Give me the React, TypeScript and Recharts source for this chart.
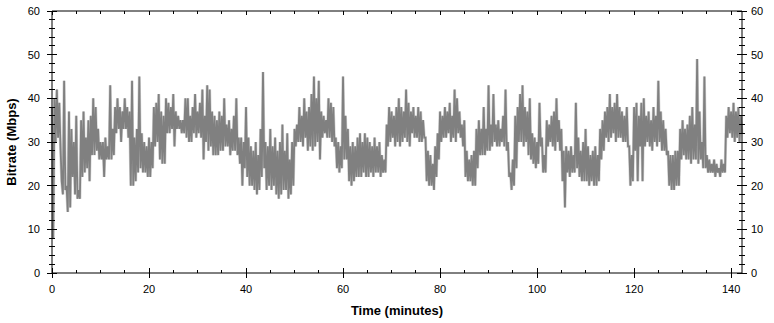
import React from "react";
import { LineChart, Line, XAxis, YAxis, Label } from "recharts";

// half-minute bins: upper and lower value of the trace (Mbps)
const highs = [
  38, 40, 42, 39, 21, 44, 20, 37, 33, 30,
  36, 19, 35, 37, 31, 35, 36, 40, 38, 33,
  30, 30, 31, 29, 43, 33, 38, 40, 38, 37,
  40, 38, 37, 44, 31, 33, 45, 32, 30, 29,
  31, 30, 38, 39, 41, 37, 36, 40, 39, 38,
  41, 37, 36, 35, 35, 40, 40, 36, 38, 41,
  37, 39, 42, 36, 43, 42, 37, 36, 35, 37,
  36, 40, 34, 35, 33, 36, 40, 31, 31, 30,
  38, 31, 29, 28, 30, 27, 33, 46, 30, 29,
  33, 29, 31, 28, 30, 34, 28, 32, 26, 30,
  33, 34, 38, 36, 40, 37, 38, 41, 45, 40,
  44, 37, 36, 35, 40, 39, 38, 31, 30, 29,
  45, 36, 33, 29, 30, 29, 31, 32, 30, 32,
  31, 30, 29, 31, 29, 30, 27, 26, 34, 38,
  37, 36, 38, 40, 38, 37, 42, 39, 37, 38,
  36, 38, 37, 35, 31, 28, 27, 25, 29, 32,
  37, 36, 38, 37, 39, 36, 42, 40, 37, 34,
  35, 28, 26, 27, 28, 33, 35, 33, 38, 33,
  43, 34, 41, 34, 35, 33, 36, 42, 30, 23,
  26, 36, 38, 41, 43, 38, 37, 40, 32, 31,
  30, 39, 31, 27, 35, 34, 36, 37, 40, 35,
  33, 28, 29, 28, 29, 27, 39, 31, 28, 30,
  33, 29, 27, 28, 29, 27, 33, 35, 37, 38,
  41, 38, 39, 41, 38, 37, 36, 38, 29, 27,
  38, 39, 36, 39, 40, 36, 37, 35, 38, 36,
  44, 37, 35, 33, 28, 27, 27, 28, 28, 33,
  35, 33, 34, 36, 38, 34, 49, 37, 30, 45,
  27, 26, 25, 26, 25, 24, 26, 25, 36, 38,
  37, 39, 37, 38, 36,
];

const lows = [
  8, 30, 31, 29, 18, 19, 14, 15, 22, 18,
  17, 17, 22, 23, 24, 21, 27, 27, 28, 26,
  26, 22, 26, 26, 26, 27, 32, 33, 30, 33,
  33, 31, 20, 20, 21, 23, 24, 23, 23, 22,
  22, 24, 29, 30, 26, 25, 25, 32, 32, 33,
  29, 33, 33, 32, 32, 31, 30, 30, 32, 31,
  32, 31, 26, 30, 28, 29, 27, 27, 27, 28,
  28, 29, 29, 27, 28, 28, 27, 25, 20, 24,
  22, 20, 20, 19, 18, 19, 22, 24, 19, 20,
  19, 20, 18, 17, 18, 19, 19, 17, 18, 20,
  29, 30, 30, 29, 31, 28, 29, 28, 29, 30,
  26, 31, 32, 31, 31, 30, 29, 24, 23, 24,
  26, 26, 21, 20, 21, 22, 22, 22, 23, 22,
  22, 23, 22, 23, 23, 22, 23, 23, 29, 30,
  31, 29, 30, 29, 30, 31, 30, 29, 32, 31,
  31, 30, 30, 31, 21, 20, 20, 19, 22, 26,
  30, 31, 31, 32, 30, 31, 30, 32, 31, 29,
  22, 21, 21, 20, 20, 24, 27, 27, 27, 28,
  28, 29, 30, 29, 29, 30, 29, 28, 22, 19,
  20, 24, 30, 30, 29, 30, 27, 26, 25, 24,
  25, 29, 23, 23, 29, 30, 29, 28, 30, 28,
  21, 15, 23, 22, 23, 23, 24, 22, 21, 21,
  21, 20, 21, 20, 20, 21, 26, 28, 31, 30,
  31, 32, 30, 31, 31, 30, 30, 29, 20, 21,
  28, 21, 29, 21, 29, 30, 29, 28, 30, 29,
  30, 28, 28, 27, 20, 19, 19, 20, 20, 26,
  27, 26, 26, 25, 26, 26, 25, 26, 24, 24,
  23, 23, 23, 22, 23, 22, 23, 23, 31, 32,
  31, 30, 31, 30, 32,
];

const yTicks = Array.from({ length: 31 }, (_, i) => i * 2);
const xTicks = Array.from({ length: 29 }, (_, i) => i * 5);
const X_MAX = 142.15;

const rows = highs.flatMap((h, i) => [
  { t: i * 0.5, v: h },
  { t: i * 0.5 + 0.25, v: lows[i] },
]);

const FONT = "'Liberation Sans', Arial, sans-serif";

const LeftTick = ({ x, y, payload }: any) => {
  const major = payload.value % 10 === 0;
  const len = major ? 5 : 3;
  return (
    <g>
      <line x1={x - len} x2={x + len} y1={y} y2={y} stroke="#000" shapeRendering="crispEdges" />
      {major && (
        <text x={x - 12} y={y} dy="0.36em" textAnchor="end" fontSize={11} fontFamily={FONT} fill="#000">
          {payload.value}
        </text>
      )}
    </g>
  );
};

const RightTick = ({ x, y, payload }: any) => {
  const major = payload.value % 10 === 0;
  const len = major ? 5 : 3;
  return (
    <g>
      <line x1={x - len} x2={x + len} y1={y} y2={y} stroke="#000" shapeRendering="crispEdges" />
      {major && (
        <text x={x + 9} y={y} dy="0.36em" textAnchor="start" fontSize={11} fontFamily={FONT} fill="#000">
          {payload.value}
        </text>
      )}
    </g>
  );
};

const BottomTick = ({ x, y, payload }: any) => {
  const major = payload.value % 20 === 0;
  return (
    <g>
      <line
        x1={x}
        x2={x}
        y1={y - (major ? 5 : 3)}
        y2={y + (major ? 5 : 0)}
        stroke="#000"
        shapeRendering="crispEdges"
      />
      {major && (
        <text x={x} y={y + 20} textAnchor="middle" fontSize={11} fontFamily={FONT} fill="#000">
          {payload.value}
        </text>
      )}
    </g>
  );
};

const TopTick = ({ x, y, payload }: any) => {
  const major = payload.value % 20 === 0;
  return (
    <line x1={x} x2={x} y1={y} y2={y + (major ? 4 : 3)} stroke="#000" shapeRendering="crispEdges" />
  );
};

const XTitle = ({ viewBox }: any) => (
  <text
    x={viewBox.x + viewBox.width / 2}
    y={viewBox.y + 42}
    textAnchor="middle"
    fontSize={13}
    fontWeight="bold"
    fontFamily={FONT}
    fill="#000"
  >
    Time (minutes)
  </text>
);

const YTitle = ({ viewBox }: any) => {
  const cx = viewBox.x + 11;
  const cy = viewBox.y + viewBox.height / 2;
  return (
    <text
      x={cx}
      y={cy}
      transform={`rotate(-90 ${cx} ${cy})`}
      textAnchor="middle"
      dominantBaseline="central"
      fontSize={13}
      fontWeight="bold"
      fontFamily={FONT}
      fill="#000"
    >
      Bitrate (Mbps)
    </text>
  );
};

export default function App() {
  return (
    <div style={{ position: "absolute", left: 0, top: 0, width: 774, height: 323, background: "#fff" }}>
      <LineChart width={774} height={323} data={rows} margin={{ top: 0, right: 0, bottom: 0, left: 0 }}>
        <XAxis
          xAxisId="bottom"
          dataKey="t"
          type="number"
          domain={[0, X_MAX]}
          ticks={xTicks}
          interval={0}
          height={50}
          tickSize={0}
          tickMargin={0}
          tickLine={false}
          axisLine={{ stroke: "#000" }}
          tick={<BottomTick />}
        >
          <Label content={<XTitle />} />
        </XAxis>
        <XAxis
          xAxisId="top"
          orientation="top"
          dataKey="t"
          type="number"
          domain={[0, X_MAX]}
          ticks={xTicks}
          interval={0}
          height={11}
          tickSize={0}
          tickMargin={0}
          tickLine={false}
          axisLine={{ stroke: "#000" }}
          tick={<TopTick />}
        />
        <YAxis
          yAxisId="left"
          type="number"
          domain={[0, 60]}
          ticks={yTicks}
          interval={0}
          width={52}
          tickSize={0}
          tickMargin={0}
          tickLine={false}
          axisLine={{ stroke: "#000" }}
          tick={<LeftTick />}
        >
          <Label content={<YTitle />} />
        </YAxis>
        <YAxis
          yAxisId="right"
          orientation="right"
          type="number"
          domain={[0, 60]}
          ticks={yTicks}
          interval={0}
          width={32}
          tickSize={0}
          tickMargin={0}
          tickLine={false}
          axisLine={{ stroke: "#000" }}
          tick={<RightTick />}
        />
        <Line
          xAxisId="top"
          yAxisId="right"
          dataKey="v"
          type="linear"
          stroke="#d2d2d2"
          strokeWidth={3}
          dot={false}
          activeDot={false}
          isAnimationActive={false}
        />
        <Line
          xAxisId="bottom"
          yAxisId="left"
          dataKey="v"
          type="linear"
          stroke="#808080"
          strokeWidth={1.8}
          dot={false}
          activeDot={false}
          isAnimationActive={false}
        />
      </LineChart>
    </div>
  );
}
